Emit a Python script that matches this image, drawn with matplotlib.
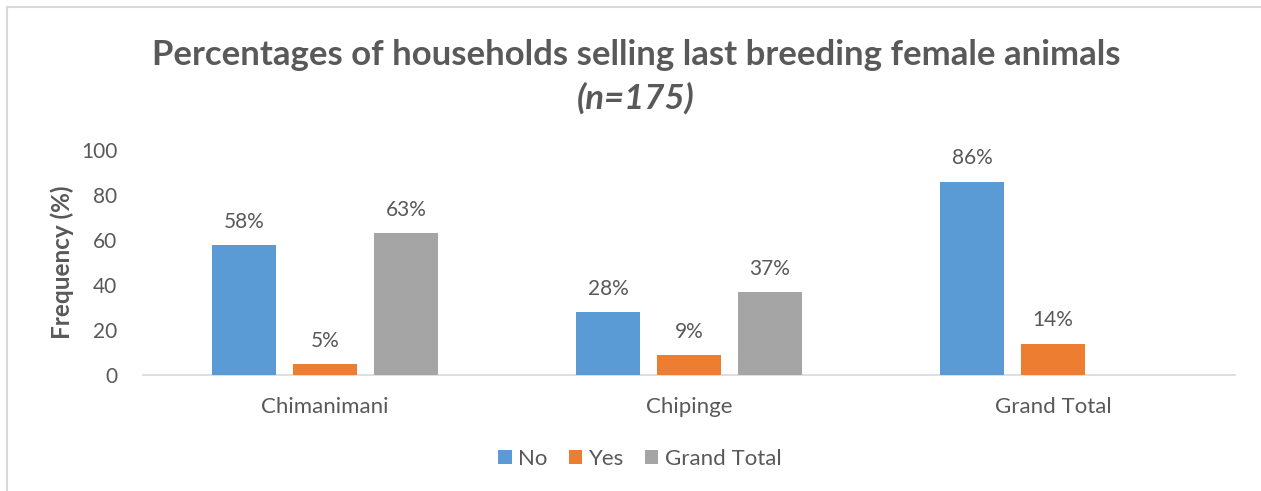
import matplotlib.pyplot as plt
from matplotlib.lines import Line2D
import numpy as np

# ---- data ----
regions = ['Chimanimani', 'Chipinge', 'Grand Total']
series = ['No', 'Yes', 'Grand Total']
no_pct = [58, 28, 86]
yes_pct = [5, 9, 14]
total_pct = [63, 37, None]   # no grand-total bar in the last group
colors = ['#5b9bd5', '#ed7d31', '#a5a5a5']

TEXT = '#595959'
FONT = ['Lato', 'DejaVu Sans']

plt.rcParams['font.family'] = FONT

fig = plt.figure(figsize=(12.61, 4.91), dpi=100)
ax = fig.add_axes([143 / 1261, 1 - 375 / 491, (1235 - 143) / 1261, 225 / 491])

x = np.arange(len(regions))
width = 0.176
step = 0.2225

for i, (name, vals, c) in enumerate(zip(series, [no_pct, yes_pct, total_pct], colors)):
    xs = [xi + (i - 1) * step for xi, v in zip(x, vals) if v is not None]
    vs = [v for v in vals if v is not None]
    bars = ax.bar(xs, vs, width=width, color=c, label=name, zorder=3)
    for b, v in zip(bars, vs):
        ax.annotate(f'{v}%', (b.get_x() + b.get_width() / 2, v),
                    xytext=(0, 13), textcoords='offset pixels',
                    ha='center', va='bottom', fontsize=15, color=TEXT)

ax.set_xlim(-0.5, 2.5)
ax.set_ylim(0, 100)
ax.set_yticks(range(0, 101, 20))
ax.set_xticks(x)
ax.set_xticklabels(regions)
ax.tick_params(axis='both', length=0, colors=TEXT)
ax.tick_params(axis='x', pad=16, labelsize=16)
ax.tick_params(axis='y', pad=18.5, labelsize=15)

for side in ['top', 'right', 'left']:
    ax.spines[side].set_visible(False)
ax.spines['bottom'].set_color('#d9d9d9')
ax.spines['bottom'].set_linewidth(1.2)

ax.set_ylabel('Frequency (%)', fontsize=17.5, fontweight='bold', color=TEXT, labelpad=5)

fig.text(636 / 1261, 1 - 55 / 491, 'Percentages of households selling last breeding female animals',
         ha='center', va='center', fontsize=25, fontweight='bold', color=TEXT)
fig.text(636 / 1261, 1 - 98 / 491, '(n=175)',
         ha='center', va='center', fontsize=25, fontweight='bold', style='italic', color=TEXT)

fig.legend(*ax.get_legend_handles_labels(), loc='center',
           bbox_to_anchor=(640 / 1261, 1 - 459 / 491), ncol=3, frameon=False,
           fontsize=16, labelcolor=TEXT, handlelength=0.6, handleheight=0.6,
           handletextpad=0.3, columnspacing=0.95)

# chart-area border (top and left edges)
fig.add_artist(Line2D([6.5 / 1261, 1], [1 - 6.5 / 491] * 2, transform=fig.transFigure,
                      color='#d9d9d9', lw=1.5))
fig.add_artist(Line2D([6.5 / 1261] * 2, [0, 1 - 6.5 / 491], transform=fig.transFigure,
                      color='#d9d9d9', lw=1.5))

fig.savefig('out.png', dpi=100, facecolor='white')
